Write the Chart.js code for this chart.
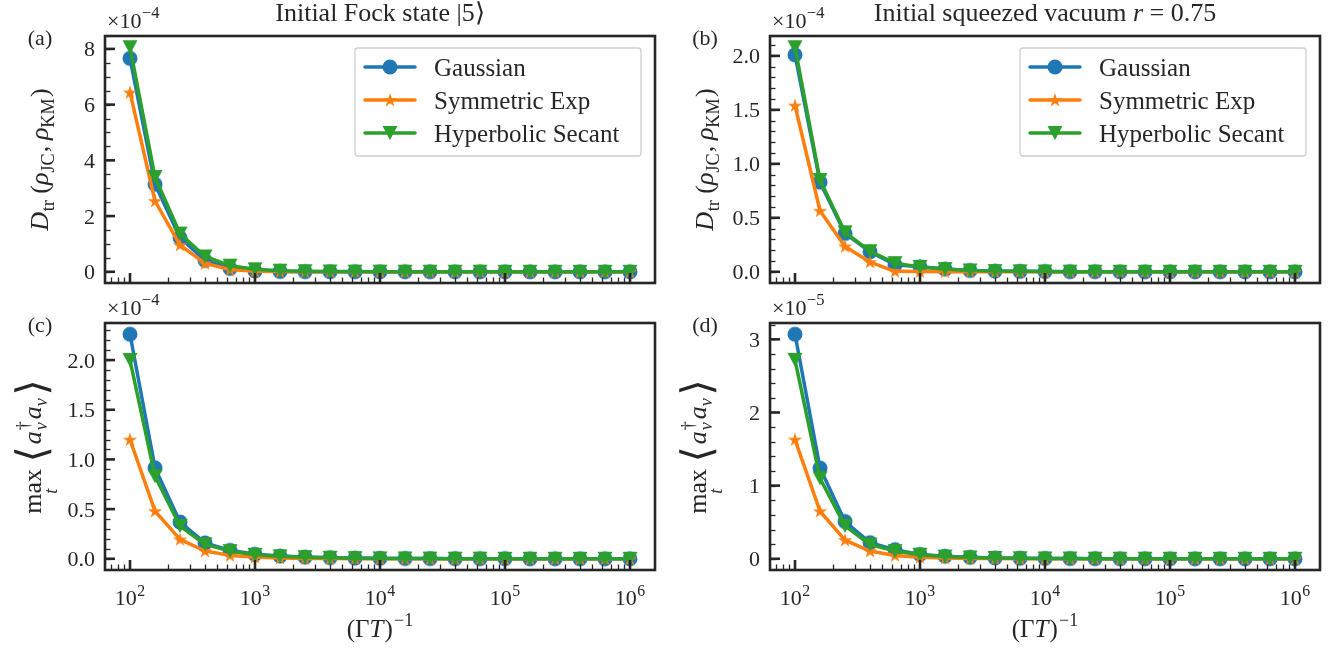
<!DOCTYPE html>
<html>
<head>
<meta charset="utf-8">
<script src="https://cdn.jsdelivr.net/npm/chart.js@4.4.0/dist/chart.umd.min.js"></script>
<style>
  html, body { margin: 0; padding: 0; background: #ffffff; }
  #wrap { position: relative; width: 1331px; height: 649px; overflow: hidden; background: #ffffff; }
  canvas { position: absolute; left: 0; top: 0; }
</style>
</head>
<body>
<div id="wrap">
  <canvas id="panelA" width="1331" height="649"></canvas>
  <canvas id="panelB" width="1331" height="649"></canvas>
  <canvas id="panelC" width="1331" height="649"></canvas>
  <canvas id="panelD" width="1331" height="649"></canvas>
</div>
<script>
// Inverse pulse width (Gamma T)^-1, five points per decade
const xValues = [100, 158.49, 251.19, 398.11, 630.96, 1000, 1584.9, 2511.9, 3981.1, 6309.6,
                 10000, 15849, 25119, 39811, 63096, 100000, 158489, 251189, 398107, 630957, 1000000];

const seriesNames = ['Gaussian', 'Symmetric Exp', 'Hyperbolic Secant'];

// (a) trace distance, initial Fock state |5>, in units of 1e-4
const fockDistGaussian = [7.66, 3.14, 1.22, 0.41, 0.12, 0.03, 0.01, 0.005, 0.003, 0.002, 0.001, 0.001, 0.001, 0, 0, 0, 0, 0, 0, 0, 0];
const fockDistSymExp   = [6.44, 2.54, 0.96, 0.30, 0.08, 0.02, 0.006, 0.003, 0.002, 0.001, 0.001, 0, 0, 0, 0, 0, 0, 0, 0, 0, 0];
const fockDistSech     = [8.06, 3.40, 1.37, 0.55, 0.22, 0.09, 0.04, 0.02, 0.01, 0.006, 0.004, 0.003, 0.002, 0.001, 0.001, 0, 0, 0, 0, 0, 0];

// (b) trace distance, squeezed vacuum r = 0.75, in units of 1e-4
const sqzDistGaussian = [2.01, 0.83, 0.355, 0.185, 0.065, 0.046, 0.025, 0.012, 0.006, 0.004, 0.002, 0.001, 0.001, 0, 0, 0, 0, 0, 0, 0, 0];
const sqzDistSymExp   = [1.54, 0.565, 0.235, 0.09, 0.004, 0.002, 0.001, 0.001, 0, 0, 0, 0, 0, 0, 0, 0, 0, 0, 0, 0, 0];
const sqzDistSech     = [2.08, 0.85, 0.365, 0.19, 0.08, 0.045, 0.025, 0.012, 0.006, 0.004, 0.002, 0.001, 0.001, 0, 0, 0, 0, 0, 0, 0, 0];

// (c) maximal virtual-cavity occupation, Fock |5>, in units of 1e-4
const fockOccGaussian = [2.26, 0.915, 0.37, 0.16, 0.085, 0.045, 0.027, 0.017, 0.011, 0.007, 0.005, 0.003, 0.002, 0.001, 0.001, 0.001, 0, 0, 0, 0, 0];
const fockOccSymExp   = [1.20, 0.48, 0.195, 0.078, 0.034, 0.017, 0.008, 0.004, 0.002, 0.001, 0.001, 0, 0, 0, 0, 0, 0, 0, 0, 0, 0];
const fockOccSech     = [2.00, 0.83, 0.33, 0.145, 0.077, 0.04, 0.025, 0.016, 0.01, 0.006, 0.004, 0.003, 0.002, 0.001, 0.001, 0, 0, 0, 0, 0, 0];

// (d) maximal virtual-cavity occupation, squeezed vacuum, in units of 1e-5
const sqzOccGaussian = [3.07, 1.24, 0.51, 0.22, 0.125, 0.06, 0.035, 0.02, 0.012, 0.008, 0.005, 0.003, 0.002, 0.001, 0.001, 0, 0, 0, 0, 0, 0];
const sqzOccSymExp   = [1.63, 0.65, 0.255, 0.105, 0.045, 0.02, 0.01, 0.005, 0.003, 0.002, 0.001, 0, 0, 0, 0, 0, 0, 0, 0, 0, 0];
const sqzOccSech     = [2.72, 1.10, 0.45, 0.195, 0.105, 0.055, 0.03, 0.018, 0.011, 0.007, 0.004, 0.003, 0.002, 0.001, 0.001, 0, 0, 0, 0, 0, 0];

// Axis ticks
const xTickValues = [1e2, 1e3, 1e4, 1e5, 1e6];
const xTickExponents = ['2', '3', '4', '5', '6'];
const yTicksA = [0, 2, 4, 6, 8];           const yTickLabelsA = ['0', '2', '4', '6', '8'];
const yTicksB = [0, 0.5, 1, 1.5, 2];       const yTickLabelsB = ['0.0', '0.5', '1.0', '1.5', '2.0'];
const yTicksC = [0, 0.5, 1, 1.5, 2];       const yTickLabelsC = ['0.0', '0.5', '1.0', '1.5', '2.0'];
const yTicksD = [0, 1, 2, 3];              const yTickLabelsD = ['0', '1', '2', '3'];

const COLORS = ['#1f77b4', '#ff7f0e', '#2ca02c'];
const FONT = '"Liberation Serif", "Times New Roman", serif';
const INK = '#262626';

// ---------- marker sprites ----------
function sprite(size, draw) {
  const c = document.createElement('canvas');
  c.width = size; c.height = size;
  const g = c.getContext('2d');
  draw(g, size / 2);
  return c;
}
const markerCircle = sprite(18, (g, m) => {
  g.fillStyle = COLORS[0];
  g.beginPath(); g.arc(m, m, 7.5, 0, Math.PI * 2); g.fill();
});
const markerStar = sprite(18, (g, m) => {
  g.fillStyle = COLORS[1];
  g.beginPath();
  const ro = 7.5, ri = ro * 0.382;
  for (let k = 0; k < 10; k++) {
    const r = k % 2 ? ri : ro;
    const a = -Math.PI / 2 + k * Math.PI / 5;
    const px = m + r * Math.cos(a), py = m + 0.5 + r * Math.sin(a);
    if (k === 0) g.moveTo(px, py); else g.lineTo(px, py);
  }
  g.closePath(); g.fill();
});
const markerTriDown = sprite(18, (g, m) => {
  g.fillStyle = COLORS[2];
  g.beginPath();
  g.moveTo(m - 7.5, m - 7); g.lineTo(m + 7.5, m - 7); g.lineTo(m, m + 7);
  g.closePath(); g.fill();
});
const MARKERS = [markerCircle, markerStar, markerTriDown];

// ---------- rich text (sub/superscripts) ----------
function fontOf(r, fs) {
  const size = Math.round(fs * (r.s || 1) * 10) / 10;
  return (r.it ? 'italic ' : '') + size + 'px ' + (r.ff || FONT);
}
function layoutRuns(ctx, runs, fs) {
  let x = 0, prevStart = 0, prevW = 0;
  const placed = [];
  for (const r of runs) {
    ctx.font = fontOf(r, fs);
    const w = ctx.measureText(r.t).width;
    if (r.under) {
      placed.push({ r, x: prevStart + prevW / 2 - w / 2 });
    } else if (r.sameX) {
      placed.push({ r, x: prevStart });
      if (w > prevW) { x = prevStart + w; }
    } else {
      placed.push({ r, x: x + (r.kl || 0) * fs });
      prevStart = x + (r.kl || 0) * fs; prevW = w;
      x = prevStart + w + (r.kr || 0) * fs;
    }
  }
  return { placed, width: x };
}
function drawRich(ctx, runs, x, y, fs, align, color) {
  const L = layoutRuns(ctx, runs, fs);
  const x0 = align === 'center' ? x - L.width / 2 : align === 'right' ? x - L.width : x;
  ctx.fillStyle = color || INK;
  ctx.textBaseline = 'alphabetic';
  ctx.textAlign = 'left';
  for (const p of L.placed) {
    ctx.font = fontOf(p.r, fs);
    ctx.fillText(p.r.t, x0 + p.x, y + (p.r.dy || 0) * fs);
  }
}

// ---------- panel decoration plugin: frame, ticks, labels, legend ----------
const decorPlugin = {
  id: 'decor',
  afterDatasetsDraw(chart, args, opts) {
    const ctx = chart.ctx;
    const a = chart.chartArea;
    const xs = chart.scales.x, ys = chart.scales.y;
    ctx.save();

    ctx.strokeStyle = INK;
    ctx.lineCap = 'butt';
    // minor ticks, pointing inward
    ctx.lineWidth = 1.3;
    const step = opts.yMinorStep;
    for (let v = Math.ceil(ys.min / step) * step; v <= ys.max + 1e-9; v += step) {
      const py = Math.round(ys.getPixelForValue(v)) + 0.5;
      if (py < a.top + 1 || py > a.bottom - 1) continue;
      ctx.beginPath(); ctx.moveTo(a.left, py); ctx.lineTo(a.left + 5.5, py); ctx.stroke();
    }
    for (let d = 1; d <= 6; d++) {
      for (let m = 2; m <= 9; m++) {
        const v = m * Math.pow(10, d);
        if (v < xs.min || v > xs.max) continue;
        const px = Math.round(xs.getPixelForValue(v)) + 0.5;
        ctx.beginPath(); ctx.moveTo(px, a.bottom); ctx.lineTo(px, a.bottom - 5.5); ctx.stroke();
      }
    }
    // major ticks
    ctx.lineWidth = 2.6;
    for (const v of opts.yTicks) {
      const py = ys.getPixelForValue(v);
      ctx.beginPath(); ctx.moveTo(a.left, py); ctx.lineTo(a.left + 10, py); ctx.stroke();
    }
    for (const v of xTickValues) {
      const px = xs.getPixelForValue(v);
      ctx.beginPath(); ctx.moveTo(px, a.bottom); ctx.lineTo(px, a.bottom - 10); ctx.stroke();
    }

    // frame
    ctx.lineWidth = 2.6;
    ctx.strokeRect(a.left, a.top, a.right - a.left, a.bottom - a.top);

    // y tick labels
    ctx.fillStyle = INK;
    ctx.font = '22px ' + FONT;
    ctx.textAlign = 'right';
    ctx.textBaseline = 'alphabetic';
    opts.yTicks.forEach((v, i) => {
      const py = ys.getPixelForValue(v);
      ctx.fillText(opts.yTickLabels[i], a.left - 10, py + 7.5);
    });

    // x tick labels and axis title (bottom row only)
    if (opts.showX) {
      xTickValues.forEach((v, i) => {
        const px = xs.getPixelForValue(v);
        drawRich(ctx, [{ t: '10' }, { t: xTickExponents[i], s: 0.72, dy: -0.42, kl: 0.02 }], px, a.bottom + 35, 22, 'center');
      });
      drawRich(ctx, [{ t: '(Γ' }, { t: 'T', it: 1 }, { t: ')', kl: 0.04 }, { t: '−1', s: 0.72, dy: -0.45, kl: 0.05 }],
               (a.left + a.right) / 2, a.bottom + 67, 25, 'center');
    }

    // scale factor above the axis
    drawRich(ctx, [{ t: '×10' }, { t: opts.offsetExp, s: 0.75, dy: -0.45, kl: 0.02 }], a.left + 2, a.top - 8, 22, 'left');

    // panel tag
    ctx.font = '22px ' + FONT;
    ctx.textAlign = 'center';
    ctx.fillStyle = INK;
    ctx.fillText(opts.tag, a.left - 65, a.top + 9);

    // title
    if (opts.title) drawRich(ctx, opts.title, (a.left + a.right) / 2, a.top - 15, 26, 'center');

    // rotated y label
    ctx.save();
    ctx.translate(a.left - opts.yLabelGap, (a.top + a.bottom) / 2);
    ctx.rotate(-Math.PI / 2);
    drawRich(ctx, opts.yLabel, 0, 0, 26, 'center');
    ctx.restore();

    // legend
    if (opts.legend) {
      const bx0 = a.right - 300, bx1 = a.right - 14, by0 = a.top + 12, by1 = a.top + 120;
      ctx.fillStyle = 'rgba(255,255,255,0.85)';
      ctx.strokeStyle = '#d0d0d0';
      ctx.lineWidth = 1.3;
      ctx.beginPath();
      if (ctx.roundRect) ctx.roundRect(bx0, by0, bx1 - bx0, by1 - by0, 3); else ctx.rect(bx0, by0, bx1 - bx0, by1 - by0);
      ctx.fill(); ctx.stroke();
      chart.data.datasets.forEach((ds, i) => {
        const ry = by0 + 19 + i * 33;
        ctx.strokeStyle = ds.borderColor;
        ctx.lineWidth = 3.5;
        ctx.lineCap = 'round';
        ctx.beginPath(); ctx.moveTo(bx0 + 10, ry); ctx.lineTo(bx0 + 60, ry); ctx.stroke();
        const img = MARKERS[i];
        ctx.drawImage(img, bx0 + 35 - img.width / 2, ry - img.height / 2);
        ctx.fillStyle = INK;
        ctx.font = '25px ' + FONT;
        ctx.textAlign = 'left';
        ctx.fillText(ds.label, bx0 + 79, ry + 8.5);
      });
    }
    ctx.restore();
  }
};

function paddedRange(series) {
  let lo = Infinity, hi = -Infinity;
  series.forEach(s => s.forEach(v => { lo = Math.min(lo, v); hi = Math.max(hi, v); }));
  const m = (hi - lo) * 0.05;
  return [lo - m, hi + m];
}

function makePanel(id, cfg) {
  const cv = document.getElementById(id);
  const W = cv.width, H = cv.height;
  const [yMin, yMax] = paddedRange(cfg.series);
  return new Chart(cv, {
    type: 'line',
    data: {
      datasets: cfg.series.map((vals, i) => ({
        label: seriesNames[i],
        data: xValues.map((x, j) => ({ x: x, y: vals[j] })),
        borderColor: COLORS[i],
        backgroundColor: COLORS[i],
        borderWidth: 3.5,
        borderJoinStyle: 'round',
        borderCapStyle: 'round',
        pointStyle: MARKERS[i],
        pointRadius: 7.5,
        pointHoverRadius: 7.5,
        tension: 0,
        fill: false,
        order: 2 - i,
        clip: false
      }))
    },
    options: {
      responsive: false,
      animation: false,
      devicePixelRatio: 1,
      events: [],
      layout: { padding: { left: cfg.left, right: W - cfg.right, top: cfg.top, bottom: H - cfg.bottom } },
      scales: {
        x: { type: 'logarithmic', min: Math.pow(10, 1.8), max: Math.pow(10, 6.2), display: false },
        y: { type: 'linear', min: yMin, max: yMax, display: false }
      },
      plugins: {
        legend: { display: false },
        tooltip: { enabled: false },
        decor: cfg
      }
    },
    plugins: [decorPlugin]
  });
}

const labelDist = [
  { t: 'D', it: 1 }, { t: 'tr', s: 0.7, dy: 0.22, kl: 0.02 },
  { t: '(', kl: 0.25 }, { t: 'ρ', it: 1 }, { t: 'JC', s: 0.7, dy: 0.22 },
  { t: ',', kl: 0.04 }, { t: 'ρ', it: 1, kl: 0.22 }, { t: 'KM', s: 0.7, dy: 0.22 }, { t: ')', kl: 0.05 }
];
const labelOcc = [
  { t: 'max' }, { t: 't', it: 1, s: 0.7, dy: 0.62, under: 1 },
  { t: '⟨', s: 1.6, dy: 0.2, kl: 0.25, ff: '"DejaVu Serif", serif' },
  { t: 'a', it: 1, kl: 0.08 }, { t: '†', s: 0.7, dy: -0.48, kl: 0.03 }, { t: 'v', it: 1, s: 0.7, dy: 0.22, sameX: 1 },
  { t: 'a', it: 1, kl: 0.08 }, { t: 'v', it: 1, s: 0.7, dy: 0.22 },
  { t: '⟩', s: 1.6, dy: 0.2, kl: 0.1, ff: '"DejaVu Serif", serif' }
];

makePanel('panelA', {
  series: [fockDistGaussian, fockDistSymExp, fockDistSech],
  left: 105, right: 655, top: 36, bottom: 283,
  yTicks: yTicksA, yTickLabels: yTickLabelsA, yMinorStep: 0.5,
  offsetExp: '−4', tag: '(a)', showX: false, legend: true, yLabelGap: 57, yLabel: labelDist,
  title: [{ t: 'Initial Fock state |5⟩' }]
});
makePanel('panelB', {
  series: [sqzDistGaussian, sqzDistSymExp, sqzDistSech],
  left: 770, right: 1320, top: 36, bottom: 283,
  yTicks: yTicksB, yTickLabels: yTickLabelsB, yMinorStep: 0.1,
  offsetExp: '−4', tag: '(b)', showX: false, legend: true, yLabelGap: 57, yLabel: labelDist,
  title: [{ t: 'Initial squeezed vacuum ' }, { t: 'r', it: 1 }, { t: ' = 0.75' }]
});
makePanel('panelC', {
  series: [fockOccGaussian, fockOccSymExp, fockOccSech],
  left: 105, right: 655, top: 323, bottom: 570,
  yTicks: yTicksC, yTickLabels: yTickLabelsC, yMinorStep: 0.1,
  offsetExp: '−4', tag: '(c)', showX: true, legend: false, yLabelGap: 64, yLabel: labelOcc
});
makePanel('panelD', {
  series: [sqzOccGaussian, sqzOccSymExp, sqzOccSech],
  left: 770, right: 1320, top: 323, bottom: 570,
  yTicks: yTicksD, yTickLabels: yTickLabelsD, yMinorStep: 0.2,
  offsetExp: '−5', tag: '(d)', showX: true, legend: false, yLabelGap: 64, yLabel: labelOcc
});
</script>
</body>
</html>
